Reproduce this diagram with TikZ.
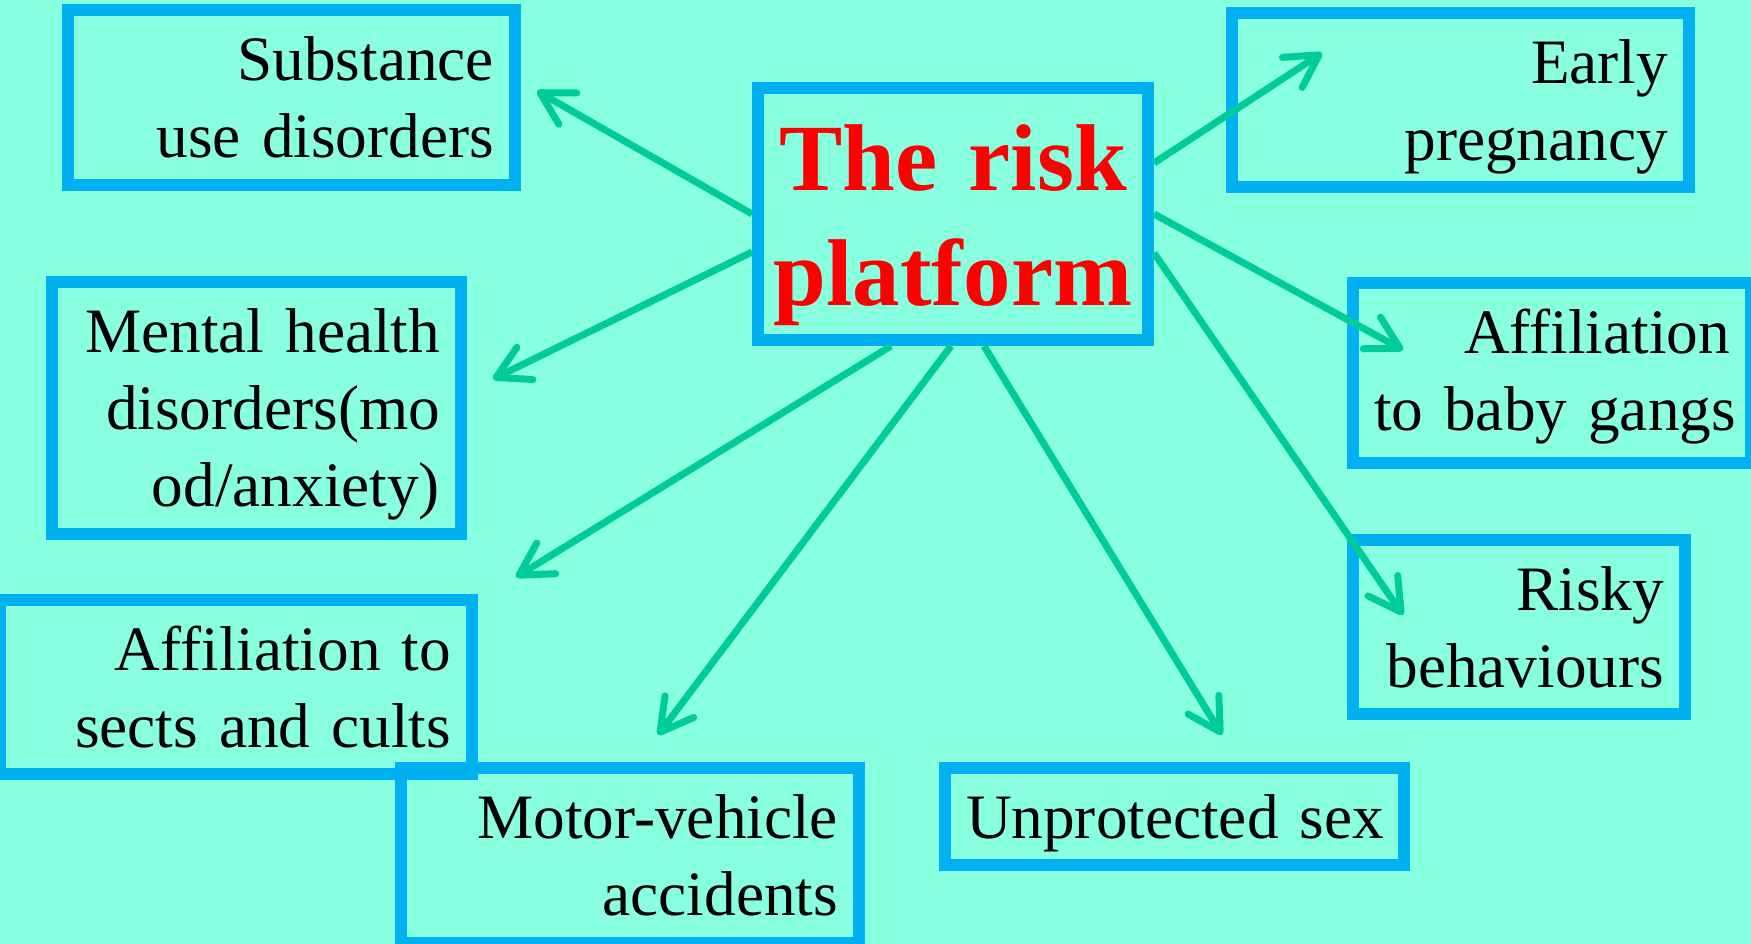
\documentclass[tikz,border=0pt]{standalone}
\usepackage{fontspec}
\setmainfont{Liberation Serif}
\usetikzlibrary{arrows.meta}
\definecolor{bgaqua}{RGB}{136,255,222}
\definecolor{boxblue}{RGB}{0,176,240}
\definecolor{arrowgreen}{RGB}{0,204,153}
\def\riskfont{\fontsize{18}{21.8}\selectfont\spaceskip=0.22em plus 0.05em}
\def\platfont{\fontsize{27}{32.7}\selectfont\bfseries\spaceskip=0.22em plus 0.05em}

\tikzset{
	riskbox/.style={draw=boxblue, line width=0.12cm, anchor=north west, text width=#1, align=right, inner xsep=0.21cm, inner ysep=0.2cm, text height=0.51cm, font=\riskfont},
	riskarrow/.style={draw=arrowgreen, line width=0.07cm, -{Straight Barb[length=0.32cm,width=0.36cm,round]}}
}

\begin{document}
\begin{tikzpicture}
			%%%%% START %%%%%
			
			\fill[bgaqua] (0, 0) rectangle (17.51, 9.44);
			\useasboundingbox (0, 0) rectangle (17.51, 9.44);
			
			\node[draw=boxblue, line width=0.12cm, anchor=north west, text width=3.70cm, align=center, inner xsep=0.1cm, inner ysep=0.2cm, text height=0.83cm, text depth=1.29cm, font=\platfont, text=red] (plat) at (7.52, 8.62) {The risk\\platform};
			
			\node[riskbox=4.05cm, text depth=0.84cm] (subst) at (0.62, 9.40) {Substance\\use disorders};
			\node[riskbox=3.67cm, text depth=1.61cm] (mental) at (0.46, 6.68) {Mental health\\disorders(mo\\od/anxiety)};
			\node[riskbox=4.30cm, text depth=0.83cm] (sects) at (-0.06, 3.50) {Affiliation to\\sects and cults};
			\node[riskbox=4.16cm, text depth=0.84cm] (motor) at (3.95, 1.82) {Motor-vehicle\\accidents};
			\node[riskbox=4.17cm, text depth=0.06cm] (unprot) at (9.39, 1.82) {\mbox{Unprotected sex}};
			
			\node[riskbox=2.90cm, text depth=0.83cm] (risky) at (13.47, 4.10) {Risky\\behaviours};
			\node[riskbox=3.56cm, text depth=0.89cm] (gangs) at (13.47, 6.67) {Affiliation\\\mbox{to baby gangs}};
			\node[riskbox=4.15cm, text depth=0.83cm] (early) at (12.26, 9.37) {Early\\pregnancy};
			
			\draw[riskarrow] (plat.west) -- ([xshift=0.16cm, yshift=0.065cm]subst.east);
			\draw[riskarrow] ([yshift=-0.38cm]plat.west) -- ([xshift=0.26cm, yshift=0.29cm]mental.east);
			\draw[riskarrow] ([xshift=-0.62cm]plat.south) -- ([xshift=0.38cm, yshift=0.17cm]sects.north east);
			\draw[riskarrow] ([xshift=-0.02cm]plat.south) -- ([xshift=0.28cm, yshift=0.27cm]motor.north);
			\draw[riskarrow] ([xshift=0.31cm]plat.south) -- ([xshift=0.475cm, yshift=0.27cm]unprot.north);
			
			\draw[riskarrow] ([yshift=-0.39cm]plat.east) -- ([xshift=0.56cm, yshift=-0.81cm]risky.north west);
			\draw[riskarrow] (plat.east) -- ([xshift=0.56cm, yshift=-0.73cm]gangs.north west);
			\draw[riskarrow] ([yshift=0.51cm]plat.east) -- ([xshift=0.96cm, yshift=0.47cm]early.west);
			
			%%%%% END %%%%%
\end{tikzpicture}
\end{document}
